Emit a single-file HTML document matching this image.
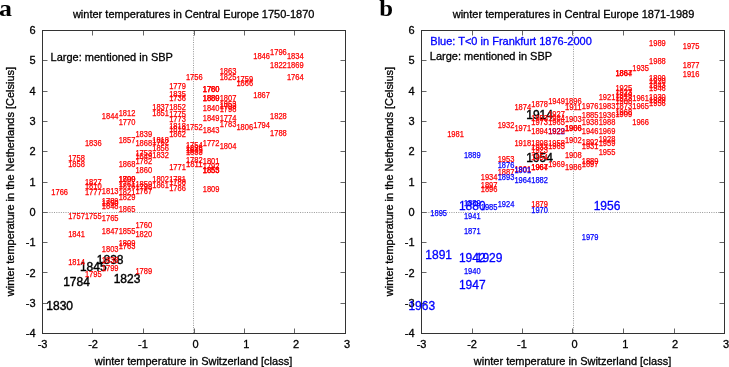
<!DOCTYPE html>
<html><head><meta charset="utf-8"><style>
html,body{margin:0;padding:0;background:#fff;}
svg{display:block;will-change:transform;}
text{font-family:"Liberation Sans",sans-serif;stroke:#000;stroke-width:0.3px;}
.r{font-size:8.4px;fill:#ff0000;text-anchor:middle;stroke:#ff0000;stroke-width:0.25px;}
.b{font-size:8.4px;fill:#0000ff;text-anchor:middle;stroke:#0000ff;stroke-width:0.25px;}
.bk{font-size:12px;fill:#000;text-anchor:middle;stroke:#000;stroke-width:0.4px;}
.bb{font-size:12px;fill:#0000ff;text-anchor:middle;stroke:#0000ff;stroke-width:0.3px;}
.tk{font-size:11px;fill:#000;text-anchor:middle;}
.tky{font-size:11px;fill:#000;text-anchor:end;}
.t{font-size:11px;fill:#000;text-anchor:middle;}
.lg{font-size:11px;fill:#000;}
.lgb{font-size:11px;fill:#0000ff;stroke:#0000ff;}
.ax{fill:none;stroke:#333;stroke-width:1;}
.tkm{fill:none;stroke:#666;stroke-width:1;}
.dot{stroke:#999;stroke-width:1;stroke-dasharray:1 1.3;}
.ab{font-family:"Liberation Serif",serif;font-weight:bold;font-size:22.5px;fill:#000;stroke:none;}
</style></head><body>
<svg width="729" height="367" viewBox="0 0 729 367">
<rect width="729" height="367" fill="#fff"/>
<text class="ab" transform="translate(-1,15.8) scale(1.15,1)">a</text>
<text class="ab" transform="translate(379.3,15.8) scale(1.1,1.05)">b</text>
<text class="t" x="193.7" y="17.6">winter temperatures in Central Europe 1750-1870</text>
<text class="t" x="573.5" y="17.6">winter temperatures in Central Europe 1871-1989</text>
<line class="dot" x1="193.5" y1="30.5" x2="193.5" y2="333.5"/>
<line class="dot" x1="42.5" y1="212.5" x2="345.5" y2="212.5"/>
<path class="tkm" d="M92.5 30.5v5M92.5 333.5v-5M143.5 30.5v5M143.5 333.5v-5M194.5 30.5v5M194.5 333.5v-5M244.5 30.5v5M244.5 333.5v-5M294.5 30.5v5M294.5 333.5v-5M42.5 303.5h5M345.5 303.5h-5M42.5 272.5h5M345.5 272.5h-5M42.5 242.5h5M345.5 242.5h-5M42.5 212.5h5M345.5 212.5h-5M42.5 182.5h5M345.5 182.5h-5M42.5 151.5h5M345.5 151.5h-5M42.5 121.5h5M345.5 121.5h-5M42.5 91.5h5M345.5 91.5h-5M42.5 60.5h5M345.5 60.5h-5"/>
<rect class="ax" x="42.5" y="30.5" width="303" height="303"/>
<text class="tk" x="42.6" y="348.3">-3</text>
<text class="tk" x="93.1" y="348.3">-2</text>
<text class="tk" x="143.0" y="348.3">-1</text>
<text class="tk" x="195.6" y="348.3">0</text>
<text class="tk" x="246.3" y="348.3">1</text>
<text class="tk" x="296.0" y="348.3">2</text>
<text class="tk" x="347.1" y="348.3">3</text>
<text class="tky" x="35.5" y="337.1">-4</text>
<text class="tky" x="35.5" y="306.8">-3</text>
<text class="tky" x="35.5" y="276.5">-2</text>
<text class="tky" x="35.5" y="246.2">-1</text>
<text class="tky" x="35.5" y="215.9">0</text>
<text class="tky" x="35.5" y="185.6">1</text>
<text class="tky" x="35.5" y="155.3">2</text>
<text class="tky" x="35.5" y="125.0">3</text>
<text class="tky" x="35.5" y="94.7">4</text>
<text class="tky" x="35.5" y="64.4">5</text>
<text class="tky" x="35.5" y="34.1">6</text>
<line class="dot" x1="573.5" y1="30.5" x2="573.5" y2="333.5"/>
<line class="dot" x1="421.5" y1="212.5" x2="724.5" y2="212.5"/>
<path class="tkm" d="M472.5 30.5v5M472.5 333.5v-5M522.5 30.5v5M522.5 333.5v-5M572.5 30.5v5M572.5 333.5v-5M623.5 30.5v5M623.5 333.5v-5M674.5 30.5v5M674.5 333.5v-5M421.5 303.5h5M724.5 303.5h-5M421.5 272.5h5M724.5 272.5h-5M421.5 242.5h5M724.5 242.5h-5M421.5 212.5h5M724.5 212.5h-5M421.5 182.5h5M724.5 182.5h-5M421.5 151.5h5M724.5 151.5h-5M421.5 121.5h5M724.5 121.5h-5M421.5 91.5h5M724.5 91.5h-5M421.5 60.5h5M724.5 60.5h-5"/>
<rect class="ax" x="421.5" y="30.5" width="303" height="303"/>
<text class="tk" x="421.6" y="348.3">-3</text>
<text class="tk" x="472.1" y="348.3">-2</text>
<text class="tk" x="522.0" y="348.3">-1</text>
<text class="tk" x="574.6" y="348.3">0</text>
<text class="tk" x="625.3" y="348.3">1</text>
<text class="tk" x="675.0" y="348.3">2</text>
<text class="tk" x="726.1" y="348.3">3</text>
<text class="tky" x="414.5" y="337.1">-4</text>
<text class="tky" x="414.5" y="306.8">-3</text>
<text class="tky" x="414.5" y="276.5">-2</text>
<text class="tky" x="414.5" y="246.2">-1</text>
<text class="tky" x="414.5" y="215.9">0</text>
<text class="tky" x="414.5" y="185.6">1</text>
<text class="tky" x="414.5" y="155.3">2</text>
<text class="tky" x="414.5" y="125.0">3</text>
<text class="tky" x="414.5" y="94.7">4</text>
<text class="tky" x="414.5" y="64.4">5</text>
<text class="tky" x="414.5" y="34.1">6</text>
<text class="t" x="193.5" y="364.9">winter temperature in Switzerland [class]</text>
<text class="t" x="572.5" y="364.9">winter temperature in Switzerland [class]</text>
<text class="t" transform="translate(14.1,181.5) rotate(-90)" x="0" y="0">winter temperature in the Netherlands [Celsius]</text>
<text class="t" transform="translate(393.1,181.5) rotate(-90)" x="0" y="0">winter temperature in the Netherlands [Celsius]</text>
<text class="lg" x="50.6" y="60.6">Large: mentioned in SBP</text>
<text class="lgb" x="430.3" y="45.1">Blue: T&lt;0 in Frankfurt 1876-2000</text>
<text class="lg" x="429.8" y="60.3">Large: mentioned in SBP</text>
<text class="bk" x="59.7" y="309.5">1830</text>
<text class="bk" x="76.5" y="286.1">1784</text>
<text class="bk" x="93.3" y="271.0">1845</text>
<text class="bk" x="110.2" y="264.4">1838</text>
<text class="bk" x="127.0" y="282.6">1823</text>
<text class="r" x="295.3" y="58.5" textLength="16.7" lengthAdjust="spacingAndGlyphs">1834</text>
<text class="r" x="295.3" y="67.8" textLength="16.7" lengthAdjust="spacingAndGlyphs">1869</text>
<text class="r" x="295.3" y="79.9" textLength="16.7" lengthAdjust="spacingAndGlyphs">1764</text>
<text class="r" x="278.4" y="55.2" textLength="16.7" lengthAdjust="spacingAndGlyphs">1796</text>
<text class="r" x="278.4" y="67.8" textLength="16.7" lengthAdjust="spacingAndGlyphs">1822</text>
<text class="r" x="278.4" y="118.5" textLength="16.7" lengthAdjust="spacingAndGlyphs">1828</text>
<text class="r" x="278.4" y="136.4" textLength="16.7" lengthAdjust="spacingAndGlyphs">1788</text>
<text class="r" x="261.6" y="58.5" textLength="16.7" lengthAdjust="spacingAndGlyphs">1846</text>
<text class="r" x="261.6" y="97.6" textLength="16.7" lengthAdjust="spacingAndGlyphs">1867</text>
<text class="r" x="261.6" y="128.2" textLength="16.7" lengthAdjust="spacingAndGlyphs">1794</text>
<text class="r" x="244.8" y="81.6" textLength="16.7" lengthAdjust="spacingAndGlyphs">1759</text>
<text class="r" x="244.8" y="85.7" textLength="16.7" lengthAdjust="spacingAndGlyphs">1866</text>
<text class="r" x="244.8" y="130.2" textLength="16.7" lengthAdjust="spacingAndGlyphs">1806</text>
<text class="r" x="228.0" y="73.9" textLength="16.7" lengthAdjust="spacingAndGlyphs">1863</text>
<text class="r" x="228.0" y="79.9" textLength="16.7" lengthAdjust="spacingAndGlyphs">1825</text>
<text class="r" x="228.0" y="101.3" textLength="16.7" lengthAdjust="spacingAndGlyphs">1807</text>
<text class="r" x="228.0" y="107.2" textLength="16.7" lengthAdjust="spacingAndGlyphs">1853</text>
<text class="r" x="228.0" y="109.4" textLength="16.7" lengthAdjust="spacingAndGlyphs">1793</text>
<text class="r" x="228.0" y="111.6" textLength="16.7" lengthAdjust="spacingAndGlyphs">1798</text>
<text class="r" x="228.0" y="121.0" textLength="16.7" lengthAdjust="spacingAndGlyphs">1774</text>
<text class="r" x="228.0" y="127.0" textLength="16.7" lengthAdjust="spacingAndGlyphs">1783</text>
<text class="r" x="228.0" y="148.7" textLength="16.7" lengthAdjust="spacingAndGlyphs">1804</text>
<text class="r" x="211.1" y="91.8" textLength="16.7" lengthAdjust="spacingAndGlyphs">1760</text>
<text class="r" x="211.1" y="91.8" textLength="16.7" lengthAdjust="spacingAndGlyphs">1780</text>
<text class="r" x="211.1" y="101.1" textLength="16.7" lengthAdjust="spacingAndGlyphs">1889</text>
<text class="r" x="211.1" y="101.1" textLength="16.7" lengthAdjust="spacingAndGlyphs">1880</text>
<text class="r" x="211.1" y="111.2" textLength="16.7" lengthAdjust="spacingAndGlyphs">1840</text>
<text class="r" x="211.1" y="121.0" textLength="16.7" lengthAdjust="spacingAndGlyphs">1849</text>
<text class="r" x="211.1" y="133.3" textLength="16.7" lengthAdjust="spacingAndGlyphs">1843</text>
<text class="r" x="211.1" y="145.8" textLength="16.7" lengthAdjust="spacingAndGlyphs">1772</text>
<text class="r" x="211.1" y="163.6" textLength="16.7" lengthAdjust="spacingAndGlyphs">1801</text>
<text class="r" x="211.1" y="169.0" textLength="16.7" lengthAdjust="spacingAndGlyphs">1792</text>
<text class="r" x="211.1" y="172.9" textLength="16.7" lengthAdjust="spacingAndGlyphs">1853</text>
<text class="r" x="211.1" y="172.9" textLength="16.7" lengthAdjust="spacingAndGlyphs">1855</text>
<text class="r" x="211.1" y="192.0" textLength="16.7" lengthAdjust="spacingAndGlyphs">1809</text>
<text class="r" x="194.3" y="79.7" textLength="16.7" lengthAdjust="spacingAndGlyphs">1756</text>
<text class="r" x="194.3" y="130.4" textLength="16.7" lengthAdjust="spacingAndGlyphs">1752</text>
<text class="r" x="194.3" y="147.9" textLength="16.7" lengthAdjust="spacingAndGlyphs">1754</text>
<text class="r" x="194.3" y="150.6" textLength="16.7" lengthAdjust="spacingAndGlyphs">1826</text>
<text class="r" x="194.3" y="152.6" textLength="16.7" lengthAdjust="spacingAndGlyphs">1835</text>
<text class="r" x="194.3" y="155.4" textLength="16.7" lengthAdjust="spacingAndGlyphs">1833</text>
<text class="r" x="194.3" y="163.4" textLength="16.7" lengthAdjust="spacingAndGlyphs">1782</text>
<text class="r" x="194.3" y="166.6" textLength="16.7" lengthAdjust="spacingAndGlyphs">1811</text>
<text class="r" x="177.5" y="88.6" textLength="16.7" lengthAdjust="spacingAndGlyphs">1779</text>
<text class="r" x="177.5" y="96.6" textLength="16.7" lengthAdjust="spacingAndGlyphs">1835</text>
<text class="r" x="177.5" y="101.0" textLength="16.7" lengthAdjust="spacingAndGlyphs">1736</text>
<text class="r" x="177.5" y="109.9" textLength="16.7" lengthAdjust="spacingAndGlyphs">1852</text>
<text class="r" x="177.5" y="117.4" textLength="16.7" lengthAdjust="spacingAndGlyphs">1775</text>
<text class="r" x="177.5" y="121.6" textLength="16.7" lengthAdjust="spacingAndGlyphs">1773</text>
<text class="r" x="177.5" y="129.4" textLength="16.7" lengthAdjust="spacingAndGlyphs">1818</text>
<text class="r" x="177.5" y="132.4" textLength="16.7" lengthAdjust="spacingAndGlyphs">1819</text>
<text class="r" x="177.5" y="136.6" textLength="16.7" lengthAdjust="spacingAndGlyphs">1862</text>
<text class="r" x="177.5" y="170.4" textLength="16.7" lengthAdjust="spacingAndGlyphs">1771</text>
<text class="r" x="177.5" y="181.9" textLength="16.7" lengthAdjust="spacingAndGlyphs">1781</text>
<text class="r" x="177.5" y="184.8" textLength="16.7" lengthAdjust="spacingAndGlyphs">1788</text>
<text class="r" x="177.5" y="191.4" textLength="16.7" lengthAdjust="spacingAndGlyphs">1786</text>
<text class="r" x="160.6" y="110.1" textLength="16.7" lengthAdjust="spacingAndGlyphs">1837</text>
<text class="r" x="160.6" y="115.6" textLength="16.7" lengthAdjust="spacingAndGlyphs">1851</text>
<text class="r" x="160.6" y="142.8" textLength="16.7" lengthAdjust="spacingAndGlyphs">1818</text>
<text class="r" x="160.6" y="145.4" textLength="16.7" lengthAdjust="spacingAndGlyphs">1762</text>
<text class="r" x="160.6" y="151.4" textLength="16.7" lengthAdjust="spacingAndGlyphs">1856</text>
<text class="r" x="160.6" y="157.9" textLength="16.7" lengthAdjust="spacingAndGlyphs">1832</text>
<text class="r" x="160.6" y="181.9" textLength="16.7" lengthAdjust="spacingAndGlyphs">1802</text>
<text class="r" x="160.6" y="188.0" textLength="16.7" lengthAdjust="spacingAndGlyphs">1861</text>
<text class="r" x="143.8" y="136.6" textLength="16.7" lengthAdjust="spacingAndGlyphs">1839</text>
<text class="r" x="143.8" y="145.8" textLength="16.7" lengthAdjust="spacingAndGlyphs">1868</text>
<text class="r" x="143.8" y="156.1" textLength="16.7" lengthAdjust="spacingAndGlyphs">1753</text>
<text class="r" x="143.8" y="159.4" textLength="16.7" lengthAdjust="spacingAndGlyphs">1849</text>
<text class="r" x="143.8" y="164.2" textLength="16.7" lengthAdjust="spacingAndGlyphs">1782</text>
<text class="r" x="143.8" y="173.1" textLength="16.7" lengthAdjust="spacingAndGlyphs">1860</text>
<text class="r" x="143.8" y="186.7" textLength="16.7" lengthAdjust="spacingAndGlyphs">1859</text>
<text class="r" x="143.8" y="190.0" textLength="16.7" lengthAdjust="spacingAndGlyphs">1798</text>
<text class="r" x="143.8" y="193.9" textLength="16.7" lengthAdjust="spacingAndGlyphs">1767</text>
<text class="r" x="143.8" y="227.6" textLength="16.7" lengthAdjust="spacingAndGlyphs">1760</text>
<text class="r" x="143.8" y="237.3" textLength="16.7" lengthAdjust="spacingAndGlyphs">1820</text>
<text class="r" x="143.8" y="273.7" textLength="16.7" lengthAdjust="spacingAndGlyphs">1789</text>
<text class="r" x="127.0" y="115.8" textLength="16.7" lengthAdjust="spacingAndGlyphs">1812</text>
<text class="r" x="127.0" y="124.8" textLength="16.7" lengthAdjust="spacingAndGlyphs">1770</text>
<text class="r" x="127.0" y="143.2" textLength="16.7" lengthAdjust="spacingAndGlyphs">1857</text>
<text class="r" x="127.0" y="167.0" textLength="16.7" lengthAdjust="spacingAndGlyphs">1868</text>
<text class="r" x="127.0" y="182.2" textLength="16.7" lengthAdjust="spacingAndGlyphs">1799</text>
<text class="r" x="127.0" y="182.2" textLength="16.7" lengthAdjust="spacingAndGlyphs">1800</text>
<text class="r" x="127.0" y="187.4" textLength="16.7" lengthAdjust="spacingAndGlyphs">1761</text>
<text class="r" x="127.0" y="189.4" textLength="16.7" lengthAdjust="spacingAndGlyphs">1816</text>
<text class="r" x="127.0" y="195.2" textLength="16.7" lengthAdjust="spacingAndGlyphs">1821</text>
<text class="r" x="127.0" y="200.4" textLength="16.7" lengthAdjust="spacingAndGlyphs">1829</text>
<text class="r" x="127.0" y="211.5" textLength="16.7" lengthAdjust="spacingAndGlyphs">1865</text>
<text class="r" x="127.0" y="233.8" textLength="16.7" lengthAdjust="spacingAndGlyphs">1855</text>
<text class="r" x="127.0" y="245.6" textLength="16.7" lengthAdjust="spacingAndGlyphs">1809</text>
<text class="r" x="127.0" y="248.6" textLength="16.7" lengthAdjust="spacingAndGlyphs">1763</text>
<text class="r" x="110.2" y="118.9" textLength="16.7" lengthAdjust="spacingAndGlyphs">1844</text>
<text class="r" x="110.2" y="193.9" textLength="16.7" lengthAdjust="spacingAndGlyphs">1813</text>
<text class="r" x="110.2" y="204.0" textLength="16.7" lengthAdjust="spacingAndGlyphs">1789</text>
<text class="r" x="110.2" y="206.4" textLength="16.7" lengthAdjust="spacingAndGlyphs">1850</text>
<text class="r" x="110.2" y="208.7" textLength="16.7" lengthAdjust="spacingAndGlyphs">1848</text>
<text class="r" x="110.2" y="221.4" textLength="16.7" lengthAdjust="spacingAndGlyphs">1765</text>
<text class="r" x="110.2" y="233.8" textLength="16.7" lengthAdjust="spacingAndGlyphs">1847</text>
<text class="r" x="110.2" y="252.1" textLength="16.7" lengthAdjust="spacingAndGlyphs">1803</text>
<text class="r" x="110.2" y="263.0" textLength="16.7" lengthAdjust="spacingAndGlyphs">1838</text>
<text class="r" x="110.2" y="270.6" textLength="16.7" lengthAdjust="spacingAndGlyphs">1799</text>
<text class="r" x="93.3" y="146.1" textLength="16.7" lengthAdjust="spacingAndGlyphs">1836</text>
<text class="r" x="93.3" y="185.1" textLength="16.7" lengthAdjust="spacingAndGlyphs">1827</text>
<text class="r" x="93.3" y="188.5" textLength="16.7" lengthAdjust="spacingAndGlyphs">1810</text>
<text class="r" x="93.3" y="194.7" textLength="16.7" lengthAdjust="spacingAndGlyphs">1777</text>
<text class="r" x="93.3" y="218.8" textLength="16.7" lengthAdjust="spacingAndGlyphs">1755</text>
<text class="r" x="93.3" y="276.8" textLength="16.7" lengthAdjust="spacingAndGlyphs">1795</text>
<text class="r" x="76.5" y="161.3" textLength="16.7" lengthAdjust="spacingAndGlyphs">1758</text>
<text class="r" x="76.5" y="167.4" textLength="16.7" lengthAdjust="spacingAndGlyphs">1858</text>
<text class="r" x="76.5" y="218.8" textLength="16.7" lengthAdjust="spacingAndGlyphs">1757</text>
<text class="r" x="76.5" y="237.3" textLength="16.7" lengthAdjust="spacingAndGlyphs">1841</text>
<text class="r" x="76.5" y="264.8" textLength="16.7" lengthAdjust="spacingAndGlyphs">1814</text>
<text class="r" x="59.7" y="194.7" textLength="16.7" lengthAdjust="spacingAndGlyphs">1766</text>
<text class="bb" x="472.3" y="210.3">1880</text>
<text class="bb" x="607.0" y="210.2">1956</text>
<text class="bb" x="438.7" y="258.5">1891</text>
<text class="bb" x="472.3" y="261.7">1942</text>
<text class="bb" x="489.1" y="261.7">1929</text>
<text class="bb" x="472.3" y="288.9">1947</text>
<text class="bb" x="421.8" y="309.8">1963</text>
<text class="bk" x="539.6" y="119.0">1914</text>
<text class="bk" x="539.6" y="161.7">1954</text>
<text class="b" x="556.5" y="134.4" textLength="16.7" lengthAdjust="spacingAndGlyphs">1922</text>
<text class="r" x="657.4" y="46.0" textLength="16.7" lengthAdjust="spacingAndGlyphs">1989</text>
<text class="r" x="691.1" y="49.1" textLength="16.7" lengthAdjust="spacingAndGlyphs">1975</text>
<text class="r" x="657.4" y="64.4" textLength="16.7" lengthAdjust="spacingAndGlyphs">1988</text>
<text class="r" x="691.1" y="67.5" textLength="16.7" lengthAdjust="spacingAndGlyphs">1877</text>
<text class="r" x="640.6" y="70.7" textLength="16.7" lengthAdjust="spacingAndGlyphs">1935</text>
<text class="r" x="691.1" y="76.7" textLength="16.7" lengthAdjust="spacingAndGlyphs">1916</text>
<text class="r" x="623.8" y="76.2" textLength="16.7" lengthAdjust="spacingAndGlyphs">1864</text>
<text class="r" x="623.8" y="76.2" textLength="16.7" lengthAdjust="spacingAndGlyphs">1867</text>
<text class="r" x="657.4" y="80.6" textLength="16.7" lengthAdjust="spacingAndGlyphs">1899</text>
<text class="r" x="657.4" y="83.6" textLength="16.7" lengthAdjust="spacingAndGlyphs">1920</text>
<text class="r" x="657.4" y="88.0" textLength="16.7" lengthAdjust="spacingAndGlyphs">1943</text>
<text class="r" x="657.4" y="91.0" textLength="16.7" lengthAdjust="spacingAndGlyphs">1946</text>
<text class="r" x="623.8" y="91.2" textLength="16.7" lengthAdjust="spacingAndGlyphs">1925</text>
<text class="r" x="623.8" y="94.7" textLength="16.7" lengthAdjust="spacingAndGlyphs">1923</text>
<text class="r" x="623.8" y="97.8" textLength="16.7" lengthAdjust="spacingAndGlyphs">1949</text>
<text class="r" x="623.8" y="100.5" textLength="16.7" lengthAdjust="spacingAndGlyphs">1913</text>
<text class="r" x="623.8" y="103.8" textLength="16.7" lengthAdjust="spacingAndGlyphs">1908</text>
<text class="r" x="623.8" y="108.7" textLength="16.7" lengthAdjust="spacingAndGlyphs">1873</text>
<text class="r" x="623.8" y="115.4" textLength="16.7" lengthAdjust="spacingAndGlyphs">1968</text>
<text class="r" x="623.8" y="117.4" textLength="16.7" lengthAdjust="spacingAndGlyphs">1909</text>
<text class="r" x="657.4" y="100.0" textLength="16.7" lengthAdjust="spacingAndGlyphs">1930</text>
<text class="r" x="657.4" y="102.7" textLength="16.7" lengthAdjust="spacingAndGlyphs">1939</text>
<text class="r" x="657.4" y="105.9" textLength="16.7" lengthAdjust="spacingAndGlyphs">1956</text>
<text class="r" x="640.6" y="101.4" textLength="16.7" lengthAdjust="spacingAndGlyphs">1961</text>
<text class="r" x="640.6" y="108.7" textLength="16.7" lengthAdjust="spacingAndGlyphs">1965</text>
<text class="r" x="640.6" y="124.6" textLength="16.7" lengthAdjust="spacingAndGlyphs">1966</text>
<text class="r" x="607.0" y="100.0" textLength="16.7" lengthAdjust="spacingAndGlyphs">1921</text>
<text class="r" x="607.0" y="108.7" textLength="16.7" lengthAdjust="spacingAndGlyphs">1983</text>
<text class="r" x="607.0" y="117.5" textLength="16.7" lengthAdjust="spacingAndGlyphs">1936</text>
<text class="r" x="607.0" y="124.6" textLength="16.7" lengthAdjust="spacingAndGlyphs">1988</text>
<text class="r" x="607.0" y="133.8" textLength="16.7" lengthAdjust="spacingAndGlyphs">1969</text>
<text class="r" x="607.0" y="142.4" textLength="16.7" lengthAdjust="spacingAndGlyphs">1928</text>
<text class="r" x="607.0" y="145.7" textLength="16.7" lengthAdjust="spacingAndGlyphs">1959</text>
<text class="r" x="607.0" y="154.8" textLength="16.7" lengthAdjust="spacingAndGlyphs">1955</text>
<text class="r" x="590.1" y="108.7" textLength="16.7" lengthAdjust="spacingAndGlyphs">1976</text>
<text class="r" x="590.1" y="117.9" textLength="16.7" lengthAdjust="spacingAndGlyphs">1885</text>
<text class="r" x="590.1" y="124.7" textLength="16.7" lengthAdjust="spacingAndGlyphs">1938</text>
<text class="r" x="590.1" y="133.6" textLength="16.7" lengthAdjust="spacingAndGlyphs">1946</text>
<text class="r" x="590.1" y="144.9" textLength="16.7" lengthAdjust="spacingAndGlyphs">1892</text>
<text class="r" x="590.1" y="148.6" textLength="16.7" lengthAdjust="spacingAndGlyphs">1931</text>
<text class="r" x="590.1" y="163.8" textLength="16.7" lengthAdjust="spacingAndGlyphs">1889</text>
<text class="r" x="590.1" y="166.9" textLength="16.7" lengthAdjust="spacingAndGlyphs">1897</text>
<text class="r" x="573.3" y="104.3" textLength="16.7" lengthAdjust="spacingAndGlyphs">1896</text>
<text class="r" x="573.3" y="109.5" textLength="16.7" lengthAdjust="spacingAndGlyphs">1911</text>
<text class="r" x="573.3" y="121.9" textLength="16.7" lengthAdjust="spacingAndGlyphs">1903</text>
<text class="r" x="573.3" y="130.8" textLength="16.7" lengthAdjust="spacingAndGlyphs">1906</text>
<text class="r" x="573.3" y="130.8" textLength="16.7" lengthAdjust="spacingAndGlyphs">1966</text>
<text class="r" x="573.3" y="143.4" textLength="16.7" lengthAdjust="spacingAndGlyphs">1902</text>
<text class="r" x="573.3" y="157.8" textLength="16.7" lengthAdjust="spacingAndGlyphs">1908</text>
<text class="r" x="573.3" y="170.0" textLength="16.7" lengthAdjust="spacingAndGlyphs">1986</text>
<text class="r" x="556.5" y="103.8" textLength="16.7" lengthAdjust="spacingAndGlyphs">1949</text>
<text class="r" x="556.5" y="117.1" textLength="16.7" lengthAdjust="spacingAndGlyphs">1927</text>
<text class="r" x="556.5" y="120.6" textLength="16.7" lengthAdjust="spacingAndGlyphs">1984</text>
<text class="r" x="556.5" y="124.5" textLength="16.7" lengthAdjust="spacingAndGlyphs">1965</text>
<text class="r" x="556.5" y="133.7" textLength="16.7" lengthAdjust="spacingAndGlyphs">1929</text>
<text class="r" x="556.5" y="145.8" textLength="16.7" lengthAdjust="spacingAndGlyphs">1958</text>
<text class="r" x="556.5" y="148.9" textLength="16.7" lengthAdjust="spacingAndGlyphs">1965</text>
<text class="r" x="556.5" y="167.4" textLength="16.7" lengthAdjust="spacingAndGlyphs">1969</text>
<text class="r" x="539.6" y="106.5" textLength="16.7" lengthAdjust="spacingAndGlyphs">1878</text>
<text class="r" x="539.6" y="120.7" textLength="16.7" lengthAdjust="spacingAndGlyphs">1953</text>
<text class="r" x="539.6" y="124.5" textLength="16.7" lengthAdjust="spacingAndGlyphs">1973</text>
<text class="r" x="539.6" y="133.7" textLength="16.7" lengthAdjust="spacingAndGlyphs">1894</text>
<text class="r" x="539.6" y="145.8" textLength="16.7" lengthAdjust="spacingAndGlyphs">1898</text>
<text class="r" x="539.6" y="149.6" textLength="16.7" lengthAdjust="spacingAndGlyphs">1933</text>
<text class="r" x="539.6" y="153.0" textLength="16.7" lengthAdjust="spacingAndGlyphs">1923</text>
<text class="r" x="539.6" y="159.7" textLength="16.7" lengthAdjust="spacingAndGlyphs">1954</text>
<text class="r" x="539.6" y="170.2" textLength="16.7" lengthAdjust="spacingAndGlyphs">1964</text>
<text class="r" x="539.6" y="170.2" textLength="16.7" lengthAdjust="spacingAndGlyphs">1967</text>
<text class="r" x="539.6" y="206.9" textLength="16.7" lengthAdjust="spacingAndGlyphs">1879</text>
<text class="r" x="522.8" y="109.8" textLength="16.7" lengthAdjust="spacingAndGlyphs">1874</text>
<text class="r" x="522.8" y="130.6" textLength="16.7" lengthAdjust="spacingAndGlyphs">1971</text>
<text class="r" x="522.8" y="145.8" textLength="16.7" lengthAdjust="spacingAndGlyphs">1918</text>
<text class="r" x="522.8" y="172.4" textLength="16.7" lengthAdjust="spacingAndGlyphs">1901</text>
<text class="r" x="506.0" y="127.7" textLength="16.7" lengthAdjust="spacingAndGlyphs">1932</text>
<text class="r" x="506.0" y="162.3" textLength="16.7" lengthAdjust="spacingAndGlyphs">1953</text>
<text class="r" x="506.0" y="175.4" textLength="16.7" lengthAdjust="spacingAndGlyphs">1887</text>
<text class="r" x="489.1" y="179.7" textLength="16.7" lengthAdjust="spacingAndGlyphs">1934</text>
<text class="r" x="489.1" y="187.7" textLength="16.7" lengthAdjust="spacingAndGlyphs">1897</text>
<text class="r" x="489.1" y="191.5" textLength="16.7" lengthAdjust="spacingAndGlyphs">1896</text>
<text class="r" x="455.5" y="137.3" textLength="16.7" lengthAdjust="spacingAndGlyphs">1981</text>
<text class="b" x="472.3" y="158.3" textLength="16.7" lengthAdjust="spacingAndGlyphs">1889</text>
<text class="b" x="506.0" y="168.0" textLength="16.7" lengthAdjust="spacingAndGlyphs">1876</text>
<text class="b" x="522.8" y="172.9" textLength="16.7" lengthAdjust="spacingAndGlyphs">1801</text>
<text class="b" x="506.0" y="179.6" textLength="16.7" lengthAdjust="spacingAndGlyphs">1893</text>
<text class="b" x="522.8" y="182.5" textLength="16.7" lengthAdjust="spacingAndGlyphs">1964</text>
<text class="b" x="539.6" y="182.5" textLength="16.7" lengthAdjust="spacingAndGlyphs">1882</text>
<text class="b" x="438.7" y="215.7" textLength="16.7" lengthAdjust="spacingAndGlyphs">1895</text>
<text class="b" x="472.3" y="205.8" textLength="16.7" lengthAdjust="spacingAndGlyphs">1889</text>
<text class="b" x="489.1" y="209.8" textLength="16.7" lengthAdjust="spacingAndGlyphs">1985</text>
<text class="b" x="506.0" y="206.6" textLength="16.7" lengthAdjust="spacingAndGlyphs">1924</text>
<text class="b" x="472.3" y="218.8" textLength="16.7" lengthAdjust="spacingAndGlyphs">1941</text>
<text class="b" x="472.3" y="234.4" textLength="16.7" lengthAdjust="spacingAndGlyphs">1871</text>
<text class="b" x="539.6" y="213.1" textLength="16.7" lengthAdjust="spacingAndGlyphs">1970</text>
<text class="b" x="590.1" y="240.1" textLength="16.7" lengthAdjust="spacingAndGlyphs">1979</text>
<text class="b" x="472.3" y="273.8" textLength="16.7" lengthAdjust="spacingAndGlyphs">1940</text>
</svg>
</body></html>
